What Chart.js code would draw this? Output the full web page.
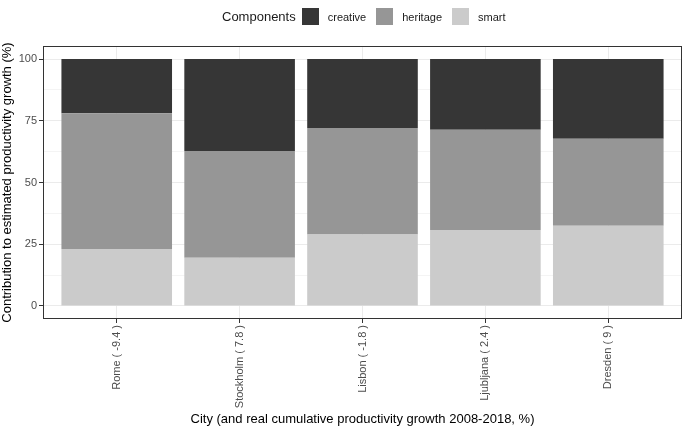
<!DOCTYPE html>
<html>
<head>
<meta charset="utf-8">
<script src="https://cdn.jsdelivr.net/npm/chart.js@4.4.1/dist/chart.umd.min.js"></script>
<style>
  body { margin: 0; background: #fff; font-family: "Liberation Sans", Arial, sans-serif; }
  #wrap { position: relative; width: 685px; height: 428px; }
  #legend { position: absolute; top: 8px; left: 222px; display: flex; align-items: center; height: 17px; }
  #legend .ttl { font-size: 13px; color: #1a1a1a; margin-right: 6px; }
  #legend .box { width: 17px; height: 17px; margin-right: 9px; }
  #legend .lab { font-size: 11px; color: #1a1a1a; margin-right: 10px; }
</style>
</head>
<body>
<div id="wrap">
  <canvas id="chart" width="685" height="428"></canvas>
  <div id="legend"></div>
</div>
<script>
var cities = ['Rome ( -9.4 )', 'Stockholm ( 7.8 )', 'Lisbon ( -1.8 )', 'Ljubljana ( 2.4 )', 'Dresden ( 9 )'];
var smart = [23.1, 19.5, 28.9, 30.8, 32.5];
var heritage = [55.0, 43.3, 43.2, 40.6, 35.2];
var creative = [21.9, 37.2, 27.9, 28.6, 32.3];
var yTicks = [0, 12.5, 25, 37.5, 50, 62.5, 75, 87.5, 100];

var colors = { creative: '#363636', heritage: '#969696', smart: '#cbcbcb' };

// legend in html, ggplot style
var lg = document.getElementById('legend');
lg.innerHTML = '<span class="ttl">Components</span>' +
  ['creative', 'heritage', 'smart'].map(function (k) {
    return '<span class="box" style="background:' + colors[k] + '"></span><span class="lab">' + k + '</span>';
  }).join('');

function pts(arr) {
  return arr.map(function (v, i) { return { x: i + 1, y: v }; });
}

var border = {
  id: 'panelBorder',
  afterDraw: function (chart) {
    var a = chart.chartArea, c = chart.ctx;
    c.save();
    c.strokeStyle = '#333';
    c.lineWidth = 1;
    c.strokeRect(a.left + 0.5, a.top + 0.5, a.right - a.left - 1, a.bottom - a.top - 1);
    c.restore();
  }
};

var ctx = document.getElementById('chart').getContext('2d');
var myChart = new Chart(ctx, {
  type: 'bar',
  data: {
    datasets: [
      { label: 'smart', data: pts(smart), backgroundColor: colors.smart },
      { label: 'heritage', data: pts(heritage), backgroundColor: colors.heritage },
      { label: 'creative', data: pts(creative), backgroundColor: colors.creative }
    ]
  },
  options: {
    responsive: false,
    animation: false,
    barPercentage: 0.9,
    categoryPercentage: 1,
    layout: { padding: { top: 46, right: 3, left: 0, bottom: 0 } },
    plugins: { legend: { display: false }, tooltip: { enabled: false } },
    scales: {
      x: {
        type: 'linear',
        stacked: true,
        offset: false,
        min: 0.4,
        max: 5.6,
        afterBuildTicks: function (s) {
          s.ticks = cities.map(function (c, i) { return { value: i + 1 }; });
        },
        afterFit: function (s) { s.height = 109; },
        ticks: {
          autoSkip: false,
          minRotation: 90,
          maxRotation: 90,
          padding: 2,
          color: '#4d4d4d',
          font: { family: 'Liberation Sans', size: 11 },
          callback: function (v) { return cities[v - 1]; }
        },
        grid: { offset: false, color: '#ebebeb', tickColor: '#333', tickLength: 4 },
        border: { display: false },
        title: {
          display: true,
          text: 'City (and real cumulative productivity growth 2008-2018, %)',
          color: '#000',
          font: { family: 'Liberation Sans', size: 13 },
          padding: { top: 0, bottom: 1 }
        }
      },
      y: {
        stacked: true,
        min: -5.3,
        max: 105.3,
        afterBuildTicks: function (s) {
          s.ticks = yTicks.map(function (v) { return { value: v }; });
        },
        afterFit: function (s) { s.width = 43; },
        ticks: {
          padding: 2,
          color: '#4d4d4d',
          font: { family: 'Liberation Sans', size: 11 },
          callback: function (v) { return v % 25 === 0 ? v : ''; }
        },
        grid: {
          color: function (c) { return c.tick && c.tick.value % 25 === 0 ? '#ebebeb' : '#f4f4f4'; },
          tickColor: function (c) { return c.tick && c.tick.value % 25 === 0 ? '#333' : 'rgba(0,0,0,0)'; },
          tickLength: 4
        },
        border: { display: false },
        title: {
          display: true,
          text: 'Contribution to estimated productivity growth (%)',
          color: '#000',
          font: { family: 'Liberation Sans', size: 13 },
          padding: { top: 0, bottom: 0 }
        }
      }
    }
  },
  plugins: [border]
});
</script>
</body>
</html>
